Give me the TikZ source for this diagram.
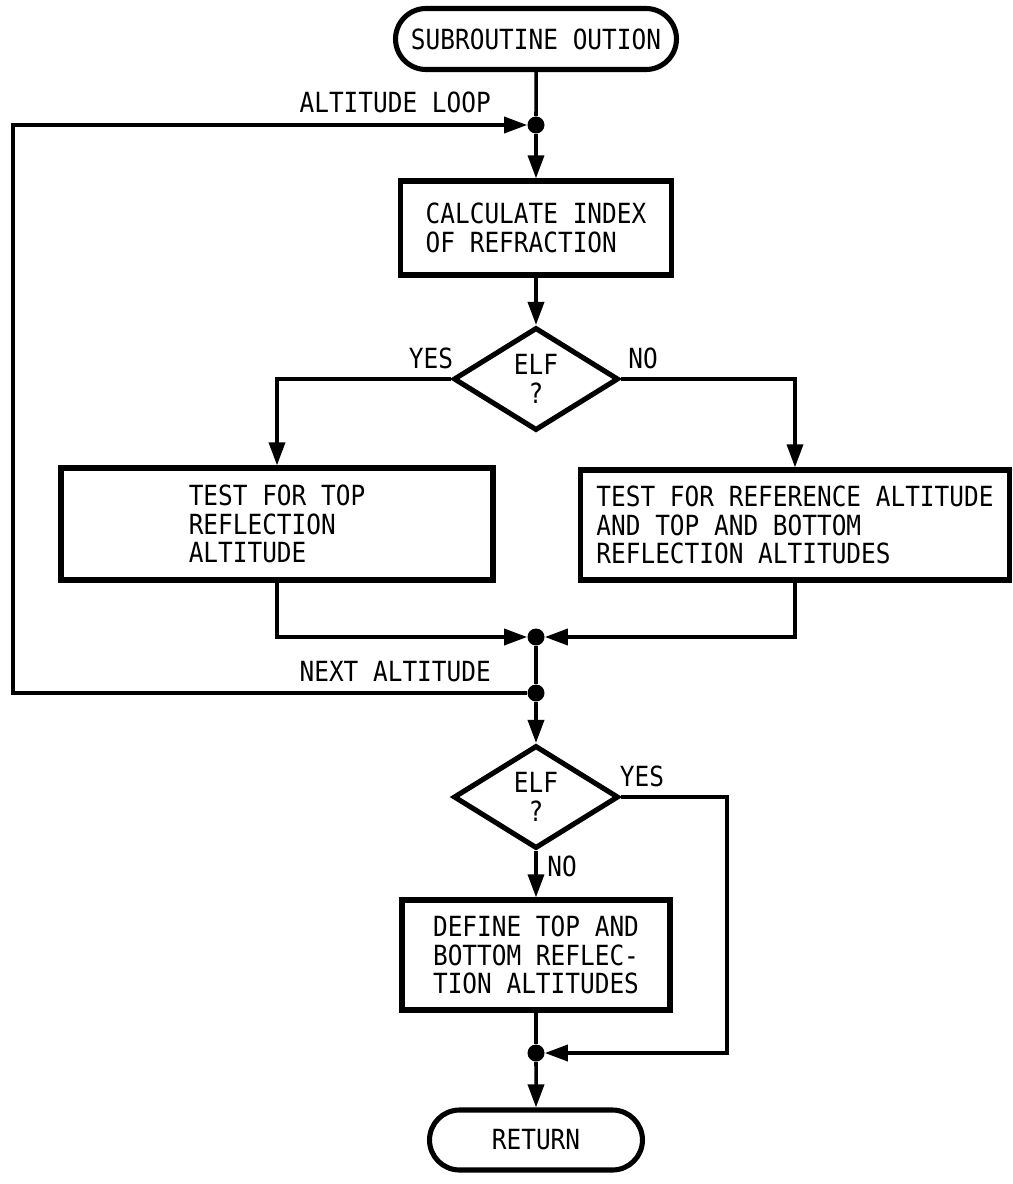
\documentclass[tikz,border=0pt]{standalone}
\usepackage{fontspec}
\setmainfont[FakeStretch=0.88]{DejaVu Sans Mono}
\usepackage{tikz}
\usetikzlibrary{positioning,arrows.meta,calc,shapes.geometric,shapes.misc}
\newcommand{\lettering}{\fontsize{15.8pt}{16.2pt}\selectfont}
\tikzset{
  term/.style ={draw,rounded rectangle,line width=2.9pt,
                minimum height=1.22cm,inner sep=0pt},
  proc/.style ={draw,rectangle,line width=3pt,
                minimum height=2.2cm,align=left,inner sep=0pt},
  dec/.style  ={draw,diamond,aspect=1.6,line width=2.9pt,
                minimum width=3.3cm,minimum height=2.06cm,
                inner sep=0pt,align=center},
  dot/.style  ={circle,fill,minimum size=0.34cm,inner sep=0pt},
  ntext/.style={font=\lettering},
  flow/.style ={line width=2pt},
  line/.style ={->,>={Triangle[length=0.46cm,width=0.32cm]},line width=2pt}
}

\begin{document}
\begin{tikzpicture}[x=0.02cm,y=-0.02cm]
\useasboundingbox (0,0) rectangle (1013,1184);

% main column
\node[term,ntext,minimum width=5.62cm] (start) at (536,39) {SUBROUTINE OUTION};
\node[dot] (j1) at (536,125) {};
\node[proc,ntext,minimum width=5.42cm,minimum height=1.88cm] (calc) at (536,228)
  {CALCULATE INDEX\\OF REFRACTION};
\node[dec,ntext] (elf1) at (536,379) {ELF\\?};

% the two tests
\node[proc,ntext,minimum width=8.64cm,minimum height=2.24cm] (top) at (277,524)
  {TEST FOR TOP\\REFLECTION\\ALTITUDE};
\node[proc,ntext,minimum width=8.58cm] (ref) at (795,525)
  {TEST FOR REFERENCE ALTITUDE\\AND TOP AND BOTTOM\\REFLECTION ALTITUDES};

\node[dot] (j2) at (536,637) {};
\node[dot] (j3) at (536,693) {};
\node[dec,ntext] (elf2) at (536,797) {ELF\\?};
\node[proc,ntext,minimum width=5.36cm] (def) at (536,955)
  {DEFINE TOP AND\\BOTTOM REFLEC-\\TION ALTITUDES};
\node[dot] (j4) at (536,1053) {};
\node[term,ntext,minimum width=4.26cm,minimum height=1.2cm] (ret) at (536,1140) {RETURN};

% loop and bypass corners
\coordinate (lb) at (13,693);
\coordinate (yr) at (727,797);

\draw[flow] (start) -- (j1);
\draw[line] (j1) -- (calc);
\draw[line] (calc) -- (elf1);
\draw[line] (elf1.west) -| (top);
\draw[line] (elf1.east) -| (ref);
\draw[line] (top) |- (j2);
\draw[line] (ref) |- (j2);
\draw[flow] (j2) -- (j3);
\draw[line] (j3) -- (lb) |- (j1);
\draw[line] (j3) -- (elf2);
\draw[line] (elf2) -- (def);
\draw[line] (elf2.east) -- (yr) |- (j4);
\draw[flow] (def) -- (j4);
\draw[line] (j4) -- (ret);

% labels
\node[ntext,anchor=east] (altloop) at (497,102) {ALTITUDE LOOP};
\node[ntext,anchor=east] (nextalt) at (497,672) {NEXT ALTITUDE};
\node[ntext] (yes1) at (431,358) {YES};
\node[ntext] (no1)  at (643,358) {NO};
\node[ntext] (yes2) at (642,776) {YES};
\node[ntext] (no2)  at (562,866) {NO};

\end{tikzpicture}
\end{document}
